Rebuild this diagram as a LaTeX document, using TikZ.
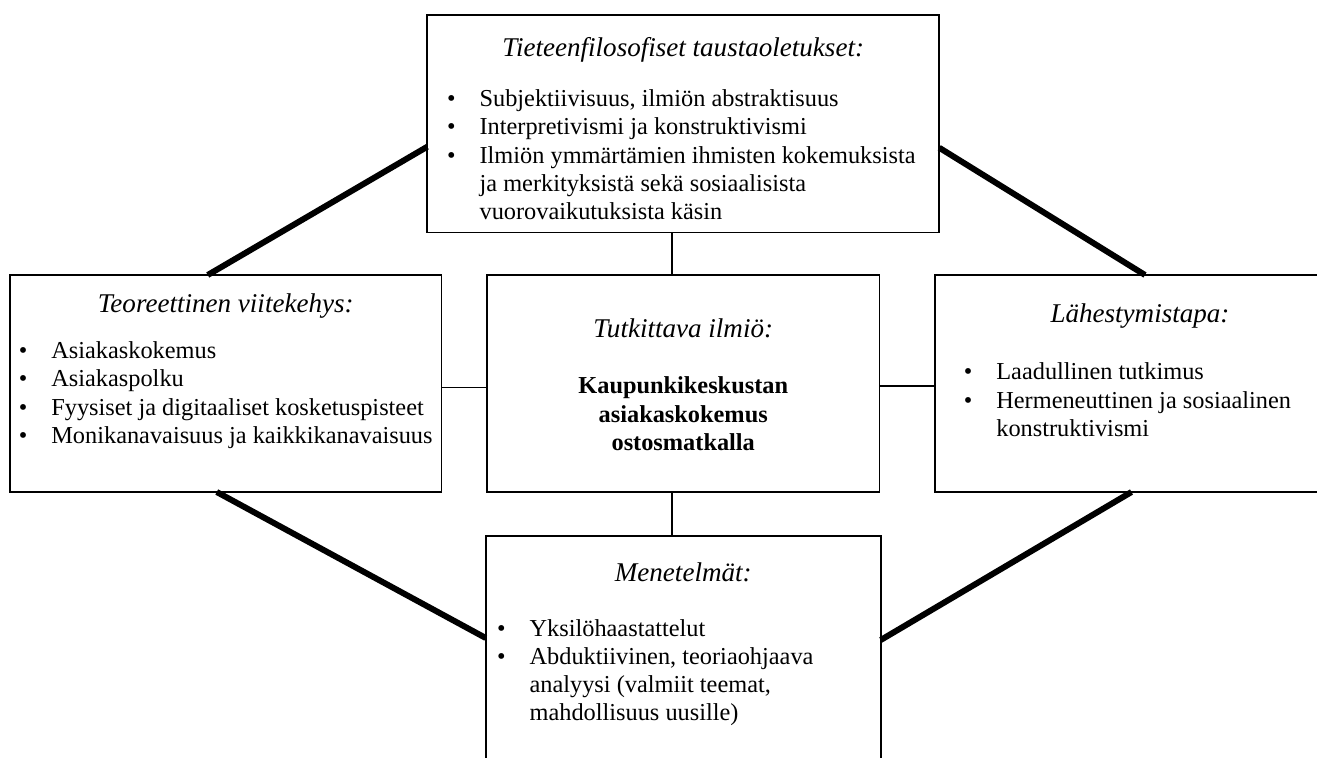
\documentclass[tikz,border=0pt]{standalone}
\usepackage{fontspec}
\setmainfont{Liberation Serif}
\usetikzlibrary{positioning}
\newenvironment{bullets}{\begin{tabular}[t]{@{}p{6.5mm}@{}l@{}}}{\end{tabular}}

\begin{document}
\begin{tikzpicture}[
  every node/.style={font=\fontsize{13.85}{16.1}\selectfont,inner sep=0pt},
  box/.style={draw,line width=1pt,fill=white,outer sep=0pt},
  heading/.style={font=\fontsize{15.4}{18}\selectfont\itshape,anchor=base},
  items/.style={anchor=base west},
  link/.style={line width=0.9pt},
  band/.style={line width=3.4pt}
]
  \useasboundingbox (0,0) rectangle (263.4mm,-151.6mm);
  \clip (0,0) rectangle (263.4mm,-151.6mm);

  % boxes
  \node[box,minimum width=78.5mm,minimum height=43.4mm] (ilmio) at (136.65mm,-76.7mm) {};
  \node[box,minimum width=86.3mm,minimum height=43.4mm,left=9.1mm of ilmio] (teoria) {};
  \node[box,minimum width=82mm,minimum height=43.4mm,right=11.1mm of ilmio] (lahestymis) {};
  \node[box,minimum width=102.4mm,minimum height=43.5mm,above=8.5mm of ilmio] (tieteen) {};
  \node[box,minimum width=79mm,minimum height=50mm,below=8.8mm of ilmio] (menetelmat) {};

  % headings
  \node[heading] (tieteenH) at ([yshift=-8.3mm]tieteen.north) {Tieteenfilosofiset taustaoletukset:};
  \node[heading] (teoriaH) at ([yshift=-7.6mm]teoria.north) {Teoreettinen viitekehys:};
  \node[heading] (ilmioH) at ([yshift=-12.6mm]ilmio.north) {Tutkittava ilmiö:};
  \node[heading] (lahestymisH) at ([yshift=-9.6mm]lahestymis.north) {Lähestymistapa:};
  \node[heading] (menetelmatH) at ([yshift=-9.1mm]menetelmat.north) {Menetelmät:};

  % contents
  \node[items] (tieteenL) at ([shift={(3.9mm,-18.3mm)}]tieteen.north west) {\begin{bullets}
    \textbullet & Subjektiivisuus, ilmiön abstraktisuus\\
    \textbullet & Interpretivismi ja konstruktivismi\\
    \textbullet & Ilmiön ymmärtämien ihmisten kokemuksista\\
    & ja merkityksistä sekä sosiaalisista\\
    & vuorovaikutuksista käsin
  \end{bullets}};
  \node[items] (teoriaL) at ([shift={(1.7mm,-16.7mm)}]teoria.north west) {\begin{bullets}
    \textbullet & Asiakaskokemus\\
    \textbullet & Asiakaspolku\\
    \textbullet & Fyysiset ja digitaaliset kosketuspisteet\\
    \textbullet & Monikanavaisuus ja kaikkikanavaisuus
  \end{bullets}};
  \node[anchor=base] (ilmioL) at ([yshift=-23.8mm]ilmio.north) {\begin{tabular}[t]{@{}c@{}}
    \textbf{Kaupunkikeskustan}\\
    \textbf{asiakaskokemus}\\
    \textbf{ostosmatkalla}
  \end{tabular}};
  \node[items] (lahestymisL) at ([shift={(5.7mm,-21mm)}]lahestymis.north west) {\begin{bullets}
    \textbullet & Laadullinen tutkimus\\
    \textbullet & Hermeneuttinen ja sosiaalinen\\
    & konstruktivismi
  \end{bullets}};
  \node[items] (menetelmatL) at ([shift={(2.2mm,-20mm)}]menetelmat.north west) {\begin{bullets}
    \textbullet & Yksilöhaastattelut\\
    \textbullet & Abduktiivinen, teoriaohjaava\\
    & analyysi (valmiit teemat,\\
    & mahdollisuus uusille)
  \end{bullets}};

  % connectors
  \draw[link] ([xshift=-2.2mm]tieteen.south) -- ([xshift=-2.2mm]ilmio.north);
  \draw[link] ([xshift=-2.2mm]ilmio.south) -- ([xshift=-2.2mm]menetelmat.north);
  \draw[link] ([yshift=-.8mm]teoria.east) -- ([yshift=-.8mm]ilmio.west);
  \draw[link] ([yshift=-.5mm]ilmio.east) -- ([yshift=-.5mm]lahestymis.west);

  \draw[band] ([xshift=-3.6mm]teoria.north) -- ([yshift=-4.6mm]tieteen.west);
  \draw[band] ([yshift=-4.8mm]tieteen.east) -- ([xshift=1mm]lahestymis.north);
  \draw[band] ([xshift=-1.8mm]teoria.south) -- ([yshift=-20.4mm]menetelmat.north west);
  \draw[band] ([yshift=-20.8mm]menetelmat.north east) -- ([xshift=-1.7mm]lahestymis.south);
\end{tikzpicture}
\end{document}
